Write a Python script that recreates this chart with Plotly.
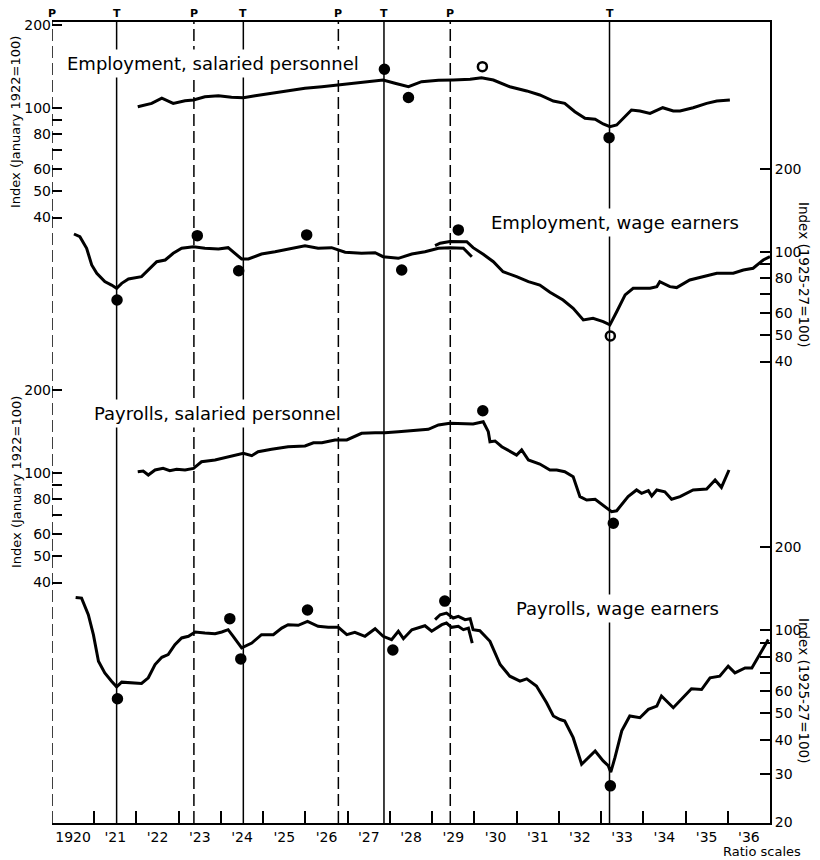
import plotly.graph_objects as go

# ---------------- data ----------------
# Employment, salaried personnel  (left upper scale, January 1922 = 100)
emp_sal_year = [1922.03, 1922.36, 1922.60, 1922.87, 1923.15, 1923.35, 1923.62, 1923.94,
                1924.25, 1924.53, 1924.81, 1925.20, 1925.59, 1925.99, 1926.39, 1926.78,
                1927.17, 1927.57, 1927.84, 1928.12, 1928.44, 1928.75, 1929.15, 1929.50,
                1929.90, 1930.17, 1930.45, 1930.84, 1931.24, 1931.55, 1931.87, 1932.14,
                1932.38, 1932.62, 1932.86, 1933.05, 1933.21, 1933.37, 1933.72, 1933.92,
                1934.16, 1934.46, 1934.71, 1934.87, 1935.18, 1935.50, 1935.74, 1936.05]
emp_sal_val = [100.8, 103.7, 108.2, 103.7, 106.0, 106.6, 109.6, 110.5,
               109.1, 108.7, 110.5, 112.8, 115.0, 117.6, 119.1, 120.9,
               122.6, 124.2, 126.0, 122.6, 119.1, 124.2, 125.7, 126.0,
               126.7, 128.4, 126.0, 119.1, 115.0, 111.2, 105.7, 103.7,
               96.7, 91.5, 90.8, 87.3, 85.3, 86.6, 98.1, 97.3,
               95.4, 100.0, 97.3, 97.3, 100.0, 103.7, 105.7, 106.6]

# Employment, wage earners (right upper scale, 1925-27 = 100)
emp_wage_old_year = [1920.52, 1920.66, 1920.82, 1920.94, 1921.06, 1921.25, 1921.41, 1921.53,
                     1921.65, 1921.81, 1922.12, 1922.28, 1922.48, 1922.68, 1922.87, 1923.07,
                     1923.35, 1923.62, 1923.94, 1924.17, 1924.33, 1924.49, 1924.65, 1924.96,
                     1925.28, 1925.59, 1925.99, 1926.30, 1926.62, 1926.94, 1927.33, 1927.65,
                     1927.84, 1928.20, 1928.52, 1928.83, 1929.15, 1929.42, 1929.74, 1929.94]
emp_wage_old_val = [115.9, 113.3, 102.9, 89.5, 83.5, 77.9, 75.7, 73.7,
                    76.8, 79.6, 81.2, 85.8, 92.0, 93.3, 98.7, 102.9,
                    104.3, 102.9, 102.3, 103.4, 98.7, 94.1, 94.1, 98.1,
                    100.0, 102.3, 105.1, 102.9, 103.4, 99.5, 98.7, 99.2,
                    95.9, 94.6, 98.1, 100.0, 102.9, 103.4, 102.9, 95.9]
emp_wage_new_year = [1929.07, 1929.19, 1929.42, 1929.66, 1929.82, 1929.97, 1930.21, 1930.45,
                     1930.68, 1931.00, 1931.28, 1931.55, 1931.79, 1932.10, 1932.34, 1932.58,
                     1932.81, 1933.05, 1933.21, 1933.37, 1933.57, 1933.76, 1934.16, 1934.32,
                     1934.39, 1934.63, 1934.79, 1935.10, 1935.42, 1935.74, 1936.13, 1936.37,
                     1936.60, 1936.84, 1937.00]
emp_wage_new_val = [105.1, 107.3, 108.9, 108.7, 108.7, 103.4, 97.9, 92.0,
                    84.6, 81.2, 77.9, 75.7, 71.3, 66.8, 62.4, 56.6,
                    57.4, 55.8, 54.3, 60.6, 69.7, 73.7, 73.7, 74.7,
                    77.9, 74.7, 74.1, 79.0, 81.2, 83.5, 83.5, 85.8,
                    87.1, 93.3, 95.9]

# Payrolls, salaried personnel (left lower scale, January 1922 = 100)
pay_sal_year = [1922.03, 1922.16, 1922.28, 1922.44, 1922.63, 1922.79, 1922.95, 1923.15,
                1923.35, 1923.54, 1923.86, 1924.17, 1924.53, 1924.73, 1924.88, 1925.20,
                1925.59, 1925.99, 1926.19, 1926.39, 1926.70, 1926.98, 1927.33, 1927.65,
                1927.88, 1928.20, 1928.59, 1928.91, 1929.15, 1929.42, 1929.97, 1930.21,
                1930.33, 1930.37, 1930.49, 1930.65, 1931.00, 1931.12, 1931.28, 1931.55,
                1931.79, 1931.95, 1932.14, 1932.34, 1932.50, 1932.66, 1932.86, 1933.05,
                1933.25, 1933.37, 1933.64, 1933.84, 1933.96, 1934.12, 1934.20, 1934.32,
                1934.51, 1934.67, 1934.87, 1935.18, 1935.50, 1935.70, 1935.85, 1936.03]
pay_sal_val = [100.8, 101.4, 98.1, 102.3, 103.7, 101.7, 102.9, 102.3,
               103.7, 109.6, 111.2, 114.3, 117.6, 115.2, 119.1, 121.6,
               124.2, 125.0, 128.4, 128.4, 131.4, 131.4, 138.9, 139.6,
               139.6, 140.8, 142.8, 143.6, 148.9, 151.0, 150.1, 153.0,
               140.8, 129.5, 130.3, 124.2, 115.9, 120.9, 111.2, 107.5,
               102.3, 102.3, 100.8, 96.7, 81.9, 79.6, 80.1, 76.4,
               72.2, 72.8, 81.9, 86.6, 84.2, 86.1, 82.3, 86.6,
               85.3, 80.1, 81.9, 86.6, 87.3, 94.1, 88.5, 102.3]

# Payrolls, wage earners (right lower scale, 1925-27 = 100)
pay_wage_old_year = [1920.56, 1920.70, 1920.86, 1920.98, 1921.10, 1921.25, 1921.41, 1921.53,
                     1921.65, 1921.89, 1922.12, 1922.28, 1922.44, 1922.60, 1922.75, 1922.91,
                     1923.07, 1923.23, 1923.39, 1923.62, 1923.86, 1924.02, 1924.17, 1924.29,
                     1924.49, 1924.73, 1924.96, 1925.24, 1925.44, 1925.59, 1925.83, 1926.05,
                     1926.30, 1926.54, 1926.78, 1926.98, 1927.17, 1927.41, 1927.65, 1927.84,
                     1928.04, 1928.20, 1928.32, 1928.52, 1928.83, 1928.99, 1929.23, 1929.34,
                     1929.46, 1929.62, 1929.74, 1929.86, 1929.95]
pay_wage_old_val = [131.7, 130.9, 113.9, 96.4, 77.2, 70.0, 65.3, 62.3,
                    64.8, 64.4, 64.1, 67.2, 75.1, 79.8, 81.6, 88.7,
                    93.8, 95.1, 98.6, 97.8, 97.2, 98.6, 100.5, 95.1,
                    86.3, 89.9, 96.4, 96.4, 101.9, 104.8, 104.3, 107.8,
                    103.4, 102.5, 102.5, 96.4, 98.3, 95.1, 101.3, 95.1,
                    92.5, 99.2, 93.2, 100.5, 103.9, 99.2, 104.8, 106.3,
                    102.5, 103.4, 100.5, 101.9, 89.9]
pay_wage_new_year = [1929.07, 1929.19, 1929.34, 1929.50, 1929.62, 1929.78, 1929.90, 1929.97,
                     1930.13, 1930.37, 1930.61, 1930.84, 1931.08, 1931.24, 1931.47, 1931.71,
                     1931.87, 1932.03, 1932.14, 1932.34, 1932.54, 1932.66, 1932.86, 1933.05,
                     1933.17, 1933.23, 1933.33, 1933.49, 1933.68, 1933.92, 1934.12, 1934.32,
                     1934.43, 1934.71, 1934.95, 1935.14, 1935.38, 1935.58, 1935.81, 1936.01,
                     1936.17, 1936.41, 1936.57, 1936.76, 1936.96]
pay_wage_new_val = [109.3, 113.9, 115.5, 110.8, 112.4, 109.3, 110.2, 100.5,
                    99.7, 91.2, 75.1, 68.1, 65.3, 66.6, 62.7, 54.5,
                    48.8, 47.4, 46.8, 40.7, 32.6, 34.0, 36.4, 33.5,
                    32.2, 30.5, 34.5, 43.1, 48.8, 48.1, 51.6, 53.0,
                    57.7, 52.3, 56.9, 61.3, 60.9, 67.2, 68.1, 74.1,
                    70.0, 73.0, 73.0, 81.6, 92.5]

# Specific-cycle turning-point dots
emp_sal_turn_year = [1927.87, 1928.44, 1930.19, 1933.19]
emp_sal_turn_val = [137.8, 108.9, 140.8, 77.9]
emp_sal_turn_open = [False, False, True, False]
emp_wage_turn_year = [1921.54, 1923.44, 1924.42, 1926.03, 1928.28, 1929.62, 1933.22]
emp_wage_turn_val = [66.8, 114.3, 85.3, 115.0, 85.8, 119.9, 49.5]
emp_wage_turn_open = [False, False, False, False, False, False, True]
pay_sal_turn_year = [1930.20, 1933.29]
pay_sal_turn_val = [167.7, 65.6]
pay_sal_turn_open = [False, False]
pay_wage_turn_year = [1921.55, 1924.21, 1924.47, 1926.05, 1928.07, 1929.30, 1933.22]
pay_wage_turn_val = [56.4, 110.2, 78.7, 118.5, 84.8, 127.7, 27.2]
pay_wage_turn_open = [False] * 7

# Reference-cycle peaks (P) and troughs (T)
ref_dates = [1920.0, 1921.53, 1923.36, 1924.53, 1926.78, 1927.86, 1929.43, 1933.20]
ref_types = ['P', 'T', 'P', 'T', 'P', 'T', 'P', 'T']

# Axis ticks
year_start, year_end = 1920, 1937
year_labels = ['1920', "'21", "'22", "'23", "'24", "'25", "'26", "'27", "'28",
               "'29", "'30", "'31", "'32", "'33", "'34", "'35", "'36"]
scale_vals = [40, 50, 60, 70, 80, 90, 100, 200]
scale_text = ['40', '50', '60', '', '80', '', '100', '200']
scale_vals_low = [20, 30, 40, 50, 60, 70, 80, 90, 100, 200]
scale_text_low = ['20', '30', '40', '50', '60', '', '80', '', '100', '200']

# ---------------- figure ----------------
FONT = 'DejaVu Sans'
PAGE_OFF = 8                      # default body margin of the html page
W, H = 812, 852
ML, MR, MT, MB = 44, 50, 14, 37

fig = go.Figure()
lw = dict(color='black', width=3)

def add_line(xs, ys, axis):
    fig.add_trace(go.Scatter(x=xs, y=ys, mode='lines', line=lw, yaxis=axis,
                             showlegend=False, hoverinfo='skip'))

def add_dots(xs, ys, opens, axis):
    fig.add_trace(go.Scatter(
        x=xs, y=ys, mode='markers', yaxis=axis, showlegend=False, hoverinfo='skip',
        marker=dict(size=9, color=['white' if o else 'black' for o in opens],
                    line=dict(color='black', width=2.5))))

add_line(emp_sal_year, emp_sal_val, 'y')
add_line(emp_wage_old_year, emp_wage_old_val, 'y2')
add_line(emp_wage_new_year, emp_wage_new_val, 'y2')
add_line(pay_sal_year, pay_sal_val, 'y3')
add_line(pay_wage_old_year, pay_wage_old_val, 'y4')
add_line(pay_wage_new_year, pay_wage_new_val, 'y4')

add_dots(emp_sal_turn_year, emp_sal_turn_val, emp_sal_turn_open, 'y')
add_dots(emp_wage_turn_year, emp_wage_turn_val, emp_wage_turn_open, 'y2')
add_dots(pay_sal_turn_year, pay_sal_turn_val, pay_sal_turn_open, 'y3')
add_dots(pay_wage_turn_year, pay_wage_turn_val, pay_wage_turn_open, 'y4')

# reference lines
for d, t in zip(ref_dates, ref_types):
    fig.add_shape(type='line', xref='x', yref='paper', x0=d, x1=d, y0=0, y1=1,
                  line=dict(color='black', width=1.5,
                            dash='solid' if t == 'T' else '12px,5px'))
    fig.add_annotation(x=d, xref='x', y=1, yref='paper', text=t, showarrow=False,
                       yanchor='bottom', yshift=1, borderpad=0,
                       font=dict(family=FONT, size=11, color='black', weight='bold'))

tickfont = dict(family=FONT, size=14, color='black')

def yax(rng, vals, text, side, showline=False, overlay=None):
    d = dict(type='log', range=rng, tickmode='array', tickvals=vals, ticktext=text,
             ticks='inside', ticklen=10, tickwidth=2, tickcolor='black',
             showgrid=False, zeroline=False, showline=showline, linecolor='black',
             linewidth=2, tickfont=tickfont, domain=[0, 1], anchor='x', side=side,
             automargin=False, fixedrange=True)
    if overlay:
        d['overlaying'] = overlay
    return d

fig.update_layout(
    width=W, height=H,
    margin=dict(l=ML, r=MR, t=MT, b=MB, pad=0),
    paper_bgcolor='white', plot_bgcolor='white',
    showlegend=False,
    xaxis=dict(range=[year_start, year_end], tickmode='array',
               tickvals=[y + 0.5 for y in range(year_start, year_end)],
               ticktext=year_labels, ticks='', showgrid=False, zeroline=False,
               showline=True, mirror=True, linecolor='black', linewidth=2,
               tickfont=tickfont, ticklabelstandoff=0, automargin=False,
               minor=dict(tickmode='array', tickvals=list(range(year_start + 1, year_end)),
                          ticks='inside', ticklen=12, tickwidth=1.5, tickcolor='black',
                          showgrid=False)),
    yaxis=yax([-0.5917, 2.3105], scale_vals, scale_text, 'left'),
    yaxis2=yax([-0.0700, 2.8322], scale_vals, scale_text, 'right', True, 'y'),
    yaxis3=yax([0.7308, 3.6330], scale_vals, scale_text, 'left', False, 'y'),
    yaxis4=yax([1.2995, 4.2112], scale_vals_low, scale_text_low, 'right', True, 'y'),
)

# helpers: page pixel -> paper fraction
def px_x(p):
    return (p - PAGE_OFF - ML) / (W - ML - MR)

def px_y(p):
    return (H - MB - (p - PAGE_OFF)) / (H - MT - MB)

labels = [
    ('Employment, salaried personnel', 212.5, 63),
    ('Employment, wage earners', 614.5, 223),
    ('Payrolls, salaried personnel', 217.5, 413),
    ('Payrolls, wage earners', 617, 608),
]
for txt, cx, cy in labels:
    fig.add_annotation(x=px_x(cx), y=px_y(cy), xref='paper', yref='paper', text=txt,
                       showarrow=False, xanchor='center', yanchor='middle',
                       bgcolor='white', borderpad=3,
                       font=dict(family=FONT, size=18, color='black'))

for txt, cx, cy, ang, sz in [('Index (January 1922=100)', 16, 122, -90, 13),
                             ('Index (January 1922=100)', 16, 482, -90, 13),
                             ('Index (1925-27=100)', 804, 274, 90, 13.5),
                             ('Index (1925-27=100)', 804, 690, 90, 13.5)]:
    fig.add_annotation(x=px_x(cx), y=px_y(cy), xref='paper', yref='paper', text=txt,
                       showarrow=False, textangle=ang, xanchor='center', yanchor='middle',
                       borderpad=0,
                       font=dict(family=FONT, size=sz, color='black'))

fig.add_annotation(x=px_x(802), y=px_y(851), xref='paper', yref='paper', text='Ratio scales',
                   showarrow=False, xanchor='right', yanchor='middle', borderpad=0,
                   font=dict(family=FONT, size=13, color='black'))

fig.write_html('out.html')
